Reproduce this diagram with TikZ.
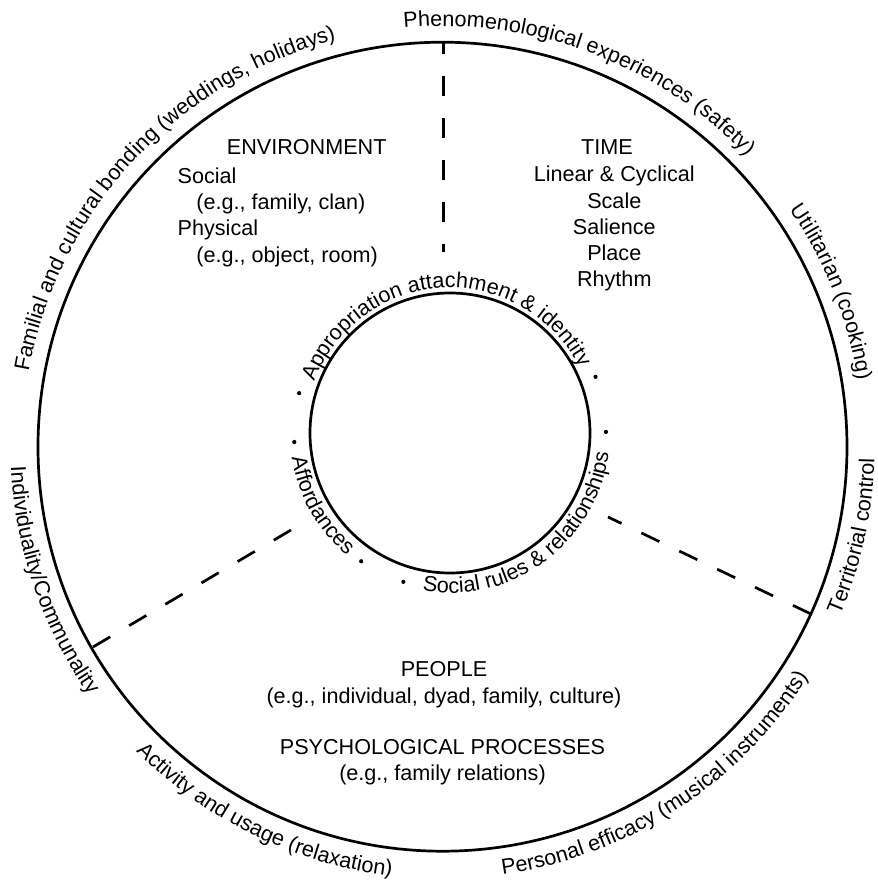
\documentclass[tikz,border=0pt]{standalone}
\usepackage{fontspec}
\setmainfont[Scale=1.08]{Liberation Sans}
\usetikzlibrary{calc,decorations.text}
\tikzset{
  rim/.style={black,line width=1.35pt},
  split/.style={black,line width=1.35pt,dash pattern=on 10pt off 11pt},
  heading/.style={font=\fontsize{10}{13.1}\selectfont,inner sep=0pt,anchor=base},
  listing/.style={heading,align=left},
  stack/.style={heading,align=center},
  sepdot/.style={circle,fill=black,inner sep=0pt,minimum size=2.1pt},
  ringtext/.style={decorate,decoration={text along path,text align=center,text={#1}}},
}

\begin{document}
\begin{tikzpicture}[x=0.5pt,y=0.5pt]
  \useasboundingbox (-442.5,-437.3) rectangle (435.5,446.7);
  \coordinate (hub) at (0,0);
  \coordinate (core) at (7.5,13.7);
  \draw[rim] (hub) circle[radius=404.5];
  \draw[rim] (core) circle[radius=140];

  % dashed dividers between the three sectors
  \coordinate (topout) at (0.8,404.5);
  \coordinate (topin) at (0.8,194.7);
  \coordinate (leftout) at (-349.5,-200.3);
  \coordinate (leftin) at (-144.2,-79);
  \coordinate (rightout) at (368.5,-167.3);
  \coordinate (rightin) at (165.5,-70.3);
  \draw[split,dash phase=4pt] (topout) -- (topin);
  \draw[split] (leftout) -- (leftin);
  \draw[split] (rightout) -- (rightin);

  % outer ring
  \path[ringtext={Familial and cultural bonding (weddings, holidays)}]
    (197.2:420.5) arc[start angle=197.2,end angle=77.2,radius=420.5];
  \path[ringtext={Phenomenological experiences (safety)}]
    (129.5:420.5) arc[start angle=129.5,end angle=9.5,radius=420.5];
  \path[ringtext={Utilitarian (cooking)}]
    (81.7:420.5) arc[start angle=81.7,end angle=-38.3,radius=420.5];
  \path[ringtext={Territorial control}]
    (-72.3:432) arc[start angle=-72.3,end angle=47.7,radius=432];
  \path[ringtext={Personal efficacy (musical instruments)}]
    (-117.1:432) arc[start angle=-117.1,end angle=2.9,radius=432];
  \path[ringtext={Activity and usage (relaxation)}]
    (184:432) arc[start angle=184,end angle=304,radius=432];
  \path[ringtext={Individuality/Communality}]
    (138.9:432) arc[start angle=138.9,end angle=258.9,radius=432];

  % inner ring
  \path[ringtext={Appropriation attachment {\&} identity}]
    ($(core)+(178:145)$) arc[start angle=178,end angle=8,radius=145];
  \path[ringtext={Affordances}]
    ($(core)+(159.3:160)$) arc[start angle=159.3,end angle=259.3,radius=160];
  \path[ringtext={Social rules {\&} relationships}]
    ($(core)+(236.5:160)$) arc[start angle=236.5,end angle=376.5,radius=160];
  \foreach \a [count=\i] in {165.2,21.1,0.4,183.3,235.3,252.6}
    \node[sepdot] (dot\i) at ($(core)+(\a:156)$) {};

  % sector contents (base = last line)
  \node[heading] (envtitle) at (-135.8,291.7) {ENVIRONMENT};
  \node[listing,anchor=base west] (envlist) at (-265.2,184.7)
    {Social\\\hspace*{9.4pt}(e.g., family, clan)\\Physical\\\hspace*{9.4pt}(e.g., object, room)};
  \node[heading] (timetitle) at (164.5,291.7) {TIME};
  \node[stack] (timelist) at (171.8,160)
    {Linear \& Cyclical\\Scale\\Salience\\Place\\Rhythm};
  \node[stack] (people) at (1.5,-256.3)
    {PEOPLE\\(e.g., individual, dyad, family, culture)};
  \node[stack] (processes) at (0,-334)
    {PSYCHOLOGICAL PROCESSES\\(e.g., family relations)};
\end{tikzpicture}
\end{document}
